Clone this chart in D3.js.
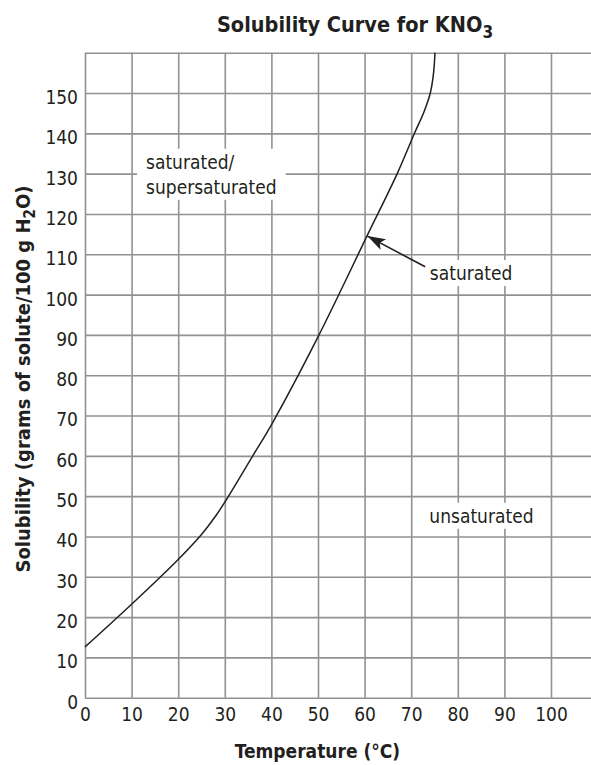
<!DOCTYPE html>
<html>
<head>
<meta charset="utf-8">
<script src="https://cdn.jsdelivr.net/npm/d3@7"></script>
<style>
  body { margin: 0; background: #fff; }
  text { font-family: "DejaVu Sans Condensed", "DejaVu Sans", sans-serif; fill: #231f20; }
</style>
</head>
<body>
<div id="chart"></div>
<script>
// KNO3 solubility
let temps = [0, 10, 20, 25, 28, 30, 36, 40, 50, 60.5, 67, 70.7, 72.8, 74.1, 74.8, 75.1];
let solubility = [12.6, 23.2, 34.3, 40.5, 45, 48.5, 60, 67.7, 89.5, 114.5, 130, 140, 145.5, 150, 155, 160];

let x_ticks = [0, 10, 20, 30, 40, 50, 60, 70, 80, 90, 100];
let y_ticks = [0, 10, 20, 30, 40, 50, 60, 70, 80, 90, 100, 110, 120, 130, 140, 150];
let y_grid = [0, 10, 20, 30, 40, 50, 60, 70, 80, 90, 100, 110, 120, 130, 140, 150, 160];

// region labels: [temp, solubility] of the first baseline
let label_text = [['saturated/', 'supersaturated'], ['saturated'], ['unsaturated']];
let label_pos = [[13.1, 131.2], [74.0, 103.6], [73.9, 43.4]];
// arrow from tail to tip on the curve
let arrow_from = [73, 106.9];
let arrow_to = [60.6, 114.5];

let chart_width = 591;
let chart_height = 765;
let left = 85;
let top_y = 52.7;
let bottom = 697.7;

let svg = d3
  .select('#chart')
  .append('svg')
  .attr('width', chart_width)
  .attr('height', chart_height);

let x_scale = d3.scaleLinear().domain([0, 100]).range([left, 551]);
let y_scale = d3.scaleLinear().domain([0, 160]).range([bottom, top_y]);

svg.append('defs')
  .append('marker')
  .attr('id', 'head')
  .attr('markerUnits', 'userSpaceOnUse')
  .attr('markerWidth', 20)
  .attr('markerHeight', 14)
  .attr('refX', 18)
  .attr('refY', 6)
  .attr('orient', 'auto')
  .append('path')
  .attr('d', 'M0,0 L18,6 L0,12 L4,6 Z')
  .attr('fill', '#231f20');

//grid lines (horizontal ones run to the page edge)
let grid_color = '#929292';
let h_grid = svg
  .append('g')
  .attr('transform', 'translate(' + left + ',0)')
  .call(d3.axisLeft(y_scale).tickValues(y_grid).tickSize(-(chart_width - left)).tickFormat(''));
let v_grid = svg
  .append('g')
  .attr('transform', 'translate(0,' + bottom + ')')
  .call(d3.axisBottom(x_scale).tickValues(x_ticks).tickSize(-(bottom - top_y)).tickFormat(''));
[h_grid, v_grid].forEach(g => {
  g.select('.domain').remove();
  g.selectAll('line').attr('stroke', grid_color).attr('stroke-width', 1.6);
});

//tick labels
let y_axis = svg
  .append('g')
  .attr('transform', 'translate(' + left + ',0)')
  .call(d3.axisLeft(y_scale).tickValues(y_ticks).tickSize(0).tickPadding(7));
y_axis.select('.domain').remove();
y_axis.selectAll('text')
  .attr('dy', '0.55em')
  .style('font-size', '19px')
  .attr('font-family', null);

let x_axis = svg
  .append('g')
  .attr('transform', 'translate(0,' + bottom + ')')
  .call(d3.axisBottom(x_scale).tickValues(x_ticks).tickSize(0).tickPadding(10));
x_axis.select('.domain').remove();
x_axis.selectAll('text')
  .style('font-size', '19px')
  .attr('font-family', null);

//region labels with white backing over the grid
let labels = svg.append('g');
label_text.forEach((lines, i) => {
  let g = labels.append('g');
  let bg = g.append('rect').attr('fill', '#fff');
  let t = g
    .append('text')
    .attr('x', x_scale(label_pos[i][0]))
    .attr('y', y_scale(label_pos[i][1]))
    .style('font-size', '19px');
  lines.forEach((s, j) => {
    t.append('tspan')
      .attr('x', x_scale(label_pos[i][0]))
      .attr('dy', j === 0 ? 0 : 25)
      .text(s);
  });
  let bb = t.node().getBBox();
  bg.attr('x', bb.x - 9)
    .attr('y', bb.y - 2)
    .attr('width', bb.width + 18)
    .attr('height', bb.height + 4);
});

//curve
let line = d3
  .line()
  .x((d, i) => x_scale(temps[i]))
  .y(d => y_scale(d))
  .curve(d3.curveCatmullRom.alpha(0.5));

svg
  .append('path')
  .datum(solubility)
  .attr('d', line)
  .attr('fill', 'none')
  .attr('stroke', '#231f20')
  .attr('stroke-width', 1.5);

svg
  .append('line')
  .attr('x1', x_scale(arrow_from[0]))
  .attr('y1', y_scale(arrow_from[1]))
  .attr('x2', x_scale(arrow_to[0]))
  .attr('y2', y_scale(arrow_to[1]))
  .attr('stroke', '#231f20')
  .attr('stroke-width', 1.6)
  .attr('marker-end', 'url(#head)');

//titles
let title = svg
  .append('text')
  .attr('x', 355)
  .attr('y', 31.7)
  .attr('text-anchor', 'middle')
  .style('font-size', '21.5px')
  .style('font-weight', 'bold');
title.append('tspan').text('Solubility Curve for KNO');
title.append('tspan').attr('dy', 6).style('font-size', '17px').text('3');

svg
  .append('text')
  .attr('x', 317.5)
  .attr('y', 758)
  .attr('text-anchor', 'middle')
  .style('font-size', '19px')
  .style('font-weight', 'bold')
  .text('Temperature (°C)');

let y_title = svg
  .append('text')
  .attr('transform', 'translate(30,379) rotate(-90)')
  .attr('text-anchor', 'middle')
  .style('font-size', '20px')
  .style('font-weight', 'bold');
y_title.append('tspan').text('Solubility (grams of solute/100 g H');
y_title.append('tspan').attr('dy', 5).style('font-size', '15px').text('2');
y_title.append('tspan').attr('dy', -5).text('O)');
</script>
</body>
</html>
